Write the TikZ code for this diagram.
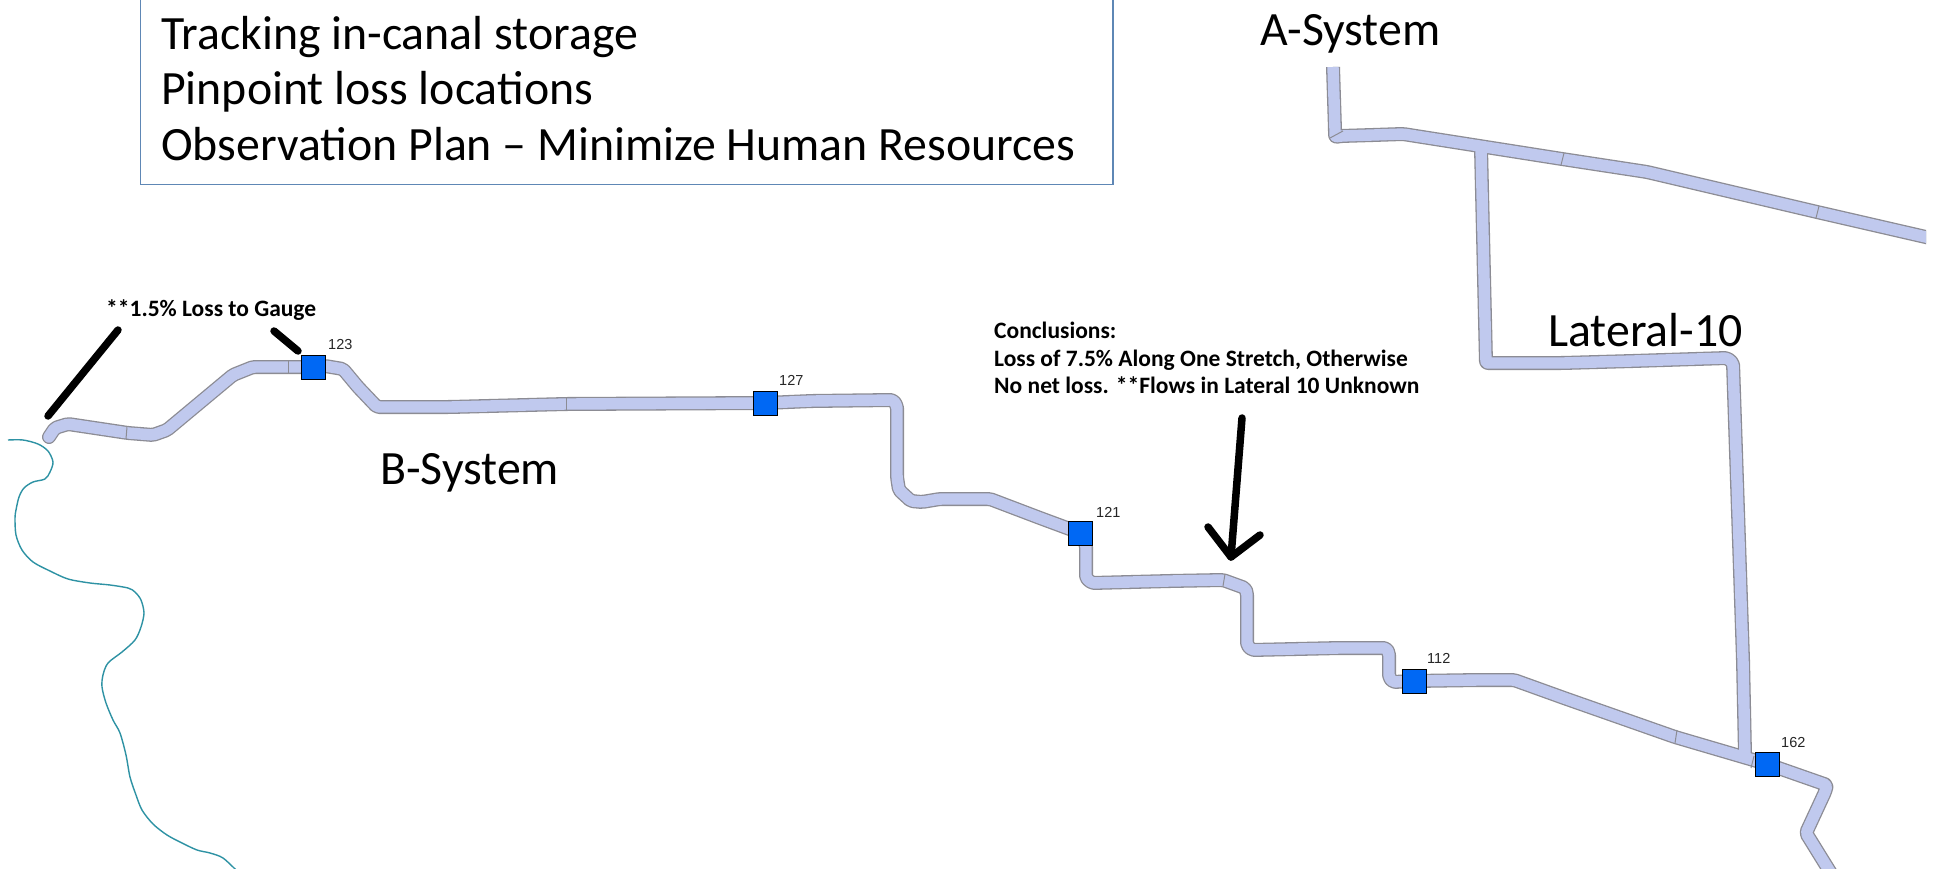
\documentclass[tikz,border=0pt]{standalone}
\usepackage{fontspec}
\setmainfont{Carlito}
\newfontfamily\numfont{Liberation Sans}
\definecolor{canalfill}{HTML}{C0C9EE}
\definecolor{canaledge}{HTML}{8C8C94}
\definecolor{gaugeblue}{HTML}{0068F4}
\definecolor{rivercol}{HTML}{2E92A4}
\definecolor{boxedge}{HTML}{5E87B5}
\newcommand{\pathB}{(49,437) -- (55,428) -- (68,424) -- (128,433) -- (153,435) -- (167,430) -- (233,375) -- (253,367) -- (p123) -- (325,366) -- (343,369) -- (358,387) -- (377,407) -- (450,407) -- (566,404) -- (p127) -- (812,401) -- (893,400) -- (897,406) -- (897,477) -- (899,490) -- (911,501) -- (922,502) -- (940,499) -- (990,499) -- (1040,518) -- (p121) -- (1086,545) -- (1086,578) -- (1092,583) -- (1170,581) -- (1223,580) -- (1245,588) -- (1247,593) -- (1247,645) -- (1252,650) -- (1340,648) -- (1386,648) -- (1389,653) -- (1389,677) -- (1393,682) -- (p112) -- (1479,680) -- (1514,680) -- (1564,698) -- (1675,737) -- (p162) -- (1827,785) -- (1825,792) -- (1806,833) -- (1832,875)}
\newcommand{\pathL}{(1481,148) -- (1486,363) -- (1563,363) -- (1633,361) -- (1727,358) -- (1733,363) -- (1743,660) -- (1745,755)}
\newcommand{\pathA}{(1333,67) -- (1335,130) -- (1335,137) -- (1341,136) -- (1373,135) -- (1403,134) -- (1473,145) -- (1562,159) -- (1647,172) -- (1817,212) -- (1930,238)}
\tikzset{
 canalout/.style={draw=canaledge,line width=14pt,line join=round,rounded corners=2pt},
 canalin/.style={draw=canalfill,line width=11.4pt,line join=round,rounded corners=2pt},
 gauge/.style={draw=black,line width=1pt,fill=gaugeblue,minimum size=24pt,inner sep=0pt},
 gaugelabel/.style={font=\numfont\fontsize{14.5}{14.5}\selectfont,text=black!85,anchor=base west,inner sep=0pt},
 bigtext/.style={font=\fontsize{47.8}{47.8}\selectfont,anchor=base west,inner sep=0pt},
 note/.style={font=\bfseries\fontsize{23.5}{23.5}\selectfont,anchor=base west,inner sep=0pt},
 marker/.style={draw=black,line width=7.5pt,line cap=round,line join=round},
 sep/.style={draw=canaledge,line width=1pt},
 river/.style={draw=rivercol,line width=1.4pt}
}
\begin{document}
\begin{tikzpicture}[x=1pt,y=-1pt]
\useasboundingbox (0,0) rectangle (1933,869);
\fill[white] (0,0) rectangle (1933,869);
\coordinate (p123) at (313,367);
\coordinate (p127) at (765,403);
\coordinate (p121) at (1080.5,533);
\coordinate (p112) at (1414,681);
\coordinate (p162) at (1767,764);
% river
\begin{scope}
\clip (0,0) rectangle (1933,869);
\draw[river] plot[smooth,tension=0.5] coordinates {(8,440) (23,440) (38,444) (48,451) (53,462) (50,472) (45,479) (33,482) (24,488) (19,497) (16,510) (15,518) (16,535) (22,550) (33,562) (50,571) (68,579) (90,583) (110,585) (128,588) (135,592) (141,600) (144,613) (141,627) (135,640) (122,652) (108,663) (103,675) (102,687) (106,703) (113,720) (120,733) (126,755) (130,777) (136,795) (142,810) (153,824) (167,835) (182,843) (197,850) (210,853) (223,858) (237,871)};
\end{scope}
% canals
\begin{scope}
\clip (0,0) rectangle (1926,869);
\draw[canalout,line cap=round] \pathB;
\draw[canalout] \pathL;
\draw[canalout] \pathA;
\draw[canalin,line cap=round] \pathB;
\draw[canalin] \pathL;
\draw[canalin] \pathA;
\end{scope}
% separators
\draw[sep] (127,427) -- (126,439);
\draw[sep] (288,360) -- (288,373);
\draw[sep] (566,397) -- (566,410);
\draw[sep] (1225,574) -- (1223,586);
\draw[sep] (1677,730) -- (1675,743);
\draw[sep] (1754,756) -- (1751,768);
\draw[sep] (1564,153) -- (1561,165);
\draw[sep] (1819,206) -- (1816,218);
\draw[sep] (1330,138) -- (1343,131);
% gauges
\node[gauge] (g123) at (p123) {};
\node[gauge] (g127) at (p127) {};
\node[gauge] (g121) at (p121) {};
\node[gauge] (g112) at (p112) {};
\node[gauge] (g162) at (p162) {};
\node[gaugelabel] (l123) at (328,349) {123};
\node[gaugelabel] (l127) at (779,385) {127};
\node[gaugelabel] (l121) at (1096,517) {121};
\node[gaugelabel] (l112) at (1427,663) {112};
\node[gaugelabel] (l162) at (1781,747) {162};
% text box
\draw[boxedge,line width=1.4pt] (140.5,-2) -- (140.5,184.5) -- (1113,184.5) -- (1113,-2);
\node[bigtext] (t1) at (161,50) {Tracking in-canal storage};
\node[bigtext] (t2) at (161,105) {Pinpoint loss locations};
\node[bigtext] (t3) at (161,161) {Observation Plan – Minimize Human Resources};
\node[bigtext] (ta) at (1260,46) {A-System};
\node[bigtext] (tb) at (380,484) {B-System};
\node[bigtext] (tl) at (1548,346) {Lateral-10};
% notes
\node[note] (n1) at (106,316) {**1.5\% Loss to Gauge};
\node[note] (n2) at (994,338) {Conclusions:};
\node[note] (n3) at (994,366) {Loss of 7.5\% Along One Stretch, Otherwise};
\node[note] (n4) at (994,393) {No net loss. **Flows in Lateral 10 Unknown};
% hand-drawn markers
\coordinate (m1a) at (118,330);
\coordinate (m1b) at (48,416);
\coordinate (m2a) at (274,331);
\coordinate (m2b) at (298,351);
\coordinate (m3a) at (1242,418);
\coordinate (m3b) at (1231,557);
\coordinate (m3c) at (1208,527);
\coordinate (m3d) at (1260,535);
\draw[marker] (m1a) -- (m1b);
\draw[marker] (m2a) -- (m2b);
\draw[marker] (m3a) -- (m3b);
\draw[marker] (m3c) -- (m3b) -- (m3d);
\end{tikzpicture}
\end{document}
